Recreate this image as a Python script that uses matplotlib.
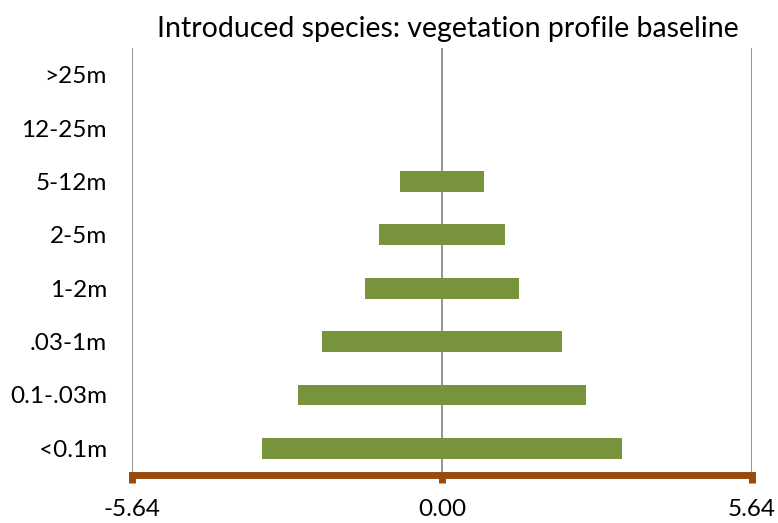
import matplotlib
matplotlib.use("Agg")
import matplotlib.pyplot as plt
from matplotlib.ticker import FormatStrFormatter

categories = ["<0.1m", "0.1-.03m", ".03-1m", "1-2m", "2-5m", "5-12m", "12-25m", ">25m"]
# half-width of each kite bar (mirrored around zero)
half_values = [3.28, 2.62, 2.19, 1.40, 1.14, 0.77, 0.0, 0.0]
axis_limit = 5.64
x_ticks = [-axis_limit, 0.0, axis_limit]

plt.rcParams["font.family"] = ["Lato", "DejaVu Sans"]

fig = plt.figure(figsize=(7.78, 5.23), dpi=100)
ax = fig.add_axes([132 / 778, 48 / 523, 620 / 778, 427 / 523])

y = range(len(categories))
lefts = [-v for v in half_values]
widths = [2 * v for v in half_values]
ax.barh(y, widths, left=lefts, height=0.39, color="#77933C", zorder=3)

ax.set_ylim(-0.5, len(categories) - 0.5)
ax.set_yticks(list(y))
ax.set_yticklabels(categories, fontsize=17.5)
ax.tick_params(axis="y", length=0, pad=18)

ax.set_xlim(-axis_limit, axis_limit)
ax.set_xticks(x_ticks)
ax.xaxis.set_major_formatter(FormatStrFormatter("%.2f"))
ax.tick_params(axis="x", labelsize=17.5, length=6, width=5, color="#9A4A0A",
               direction="out", pad=11)
ax.grid(axis="x", color="#8C8C8C", linewidth=1.3, zorder=1)
ax.grid(axis="y", visible=False)

for s in ["top", "right", "left"]:
    ax.spines[s].set_visible(False)
ax.spines["bottom"].set_color("#9A4A0A")
ax.spines["bottom"].set_linewidth(5)
ax.spines["bottom"].set_zorder(4)

ax.set_title("Introduced species: vegetation profile baseline", fontsize=20.5, pad=8, x=0.51)

fig.savefig("out.png", dpi=100)
